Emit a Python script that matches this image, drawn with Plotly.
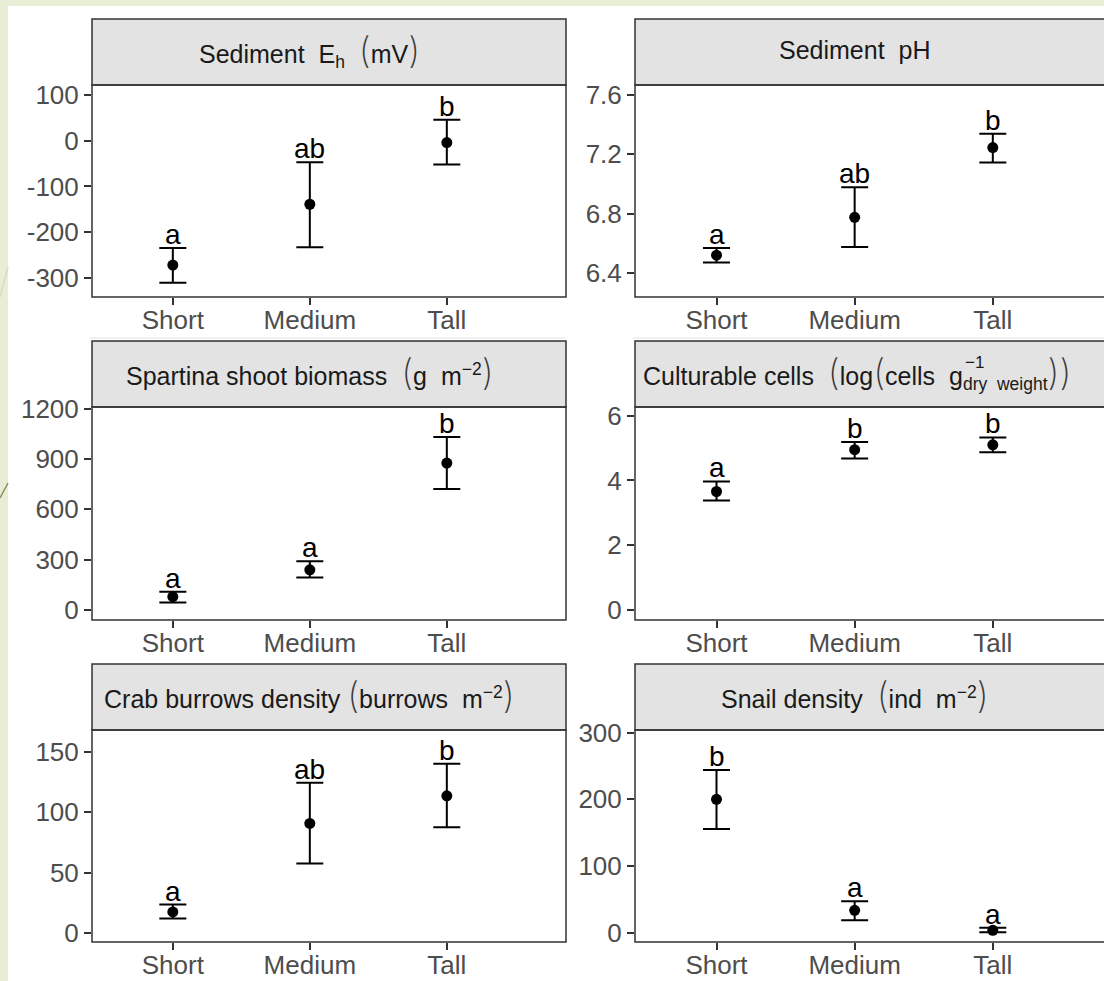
import plotly.graph_objects as go

W, H = 1104, 981

# ---- data -------------------------------------------------------------
categories = ["Short", "Medium", "Tall"]

eh_mean = [-272, -139, -4]
eh_upper = [-235, -47, 46]
eh_lower = [-311, -233, -52]
eh_letters = ["a", "ab", "b"]
eh_ticks = [-300, -200, -100, 0, 100]
eh_ticktext = ["-300", "-200", "-100", "0", "100"]

ph_mean = [6.52, 6.775, 7.245]
ph_upper = [6.568, 6.977, 7.338]
ph_lower = [6.471, 6.575, 7.145]
ph_letters = ["a", "ab", "b"]
ph_ticks = [6.4, 6.8, 7.2, 7.6]
ph_ticktext = ["6.4", "6.8", "7.2", "7.6"]

bio_mean = [79, 239, 876]
bio_upper = [109, 291, 1031]
bio_lower = [44, 193, 721]
bio_letters = ["a", "a", "b"]
bio_ticks = [0, 300, 600, 900, 1200]
bio_ticktext = ["0", "300", "600", "900", "1200"]

cells_mean = [3.66, 4.95, 5.10]
cells_upper = [3.97, 5.19, 5.33]
cells_lower = [3.38, 4.68, 4.87]
cells_letters = ["a", "b", "b"]
cells_ticks = [0, 2, 4, 6]
cells_ticktext = ["0", "2", "4", "6"]

crab_mean = [17.4, 90.7, 113.5]
crab_upper = [23.5, 124.4, 140]
crab_lower = [11.9, 57.5, 87.5]
crab_letters = ["a", "ab", "b"]
crab_ticks = [0, 50, 100, 150]
crab_ticktext = ["0", "50", "100", "150"]

snail_mean = [200, 33.5, 3.5]
snail_upper = [244, 47, 7.5]
snail_lower = [155.5, 18.5, 0.5]
snail_letters = ["b", "a", "a"]
snail_ticks = [0, 100, 200, 300]
snail_ticktext = ["0", "100", "200", "300"]

# tall, thin grouping parentheses for the strip labels
PSTYLE = "font-size:36px;font-family:Inter, DejaVu Sans;font-weight:200;fill:#3a3a3a"
LP = f'<span style="{PSTYLE}">(</span>'
RP = f'<span style="{PSTYLE}">)</span>'
titles = [
    "Sediment  E<sub>h</sub>  " + LP + "mV" + RP,
    "Sediment  pH",
    "Spartina shoot biomass  " + LP + "g  m<sup>−2</sup>" + RP,
    None,  # culturable cells: drawn separately (stacked sub/superscript)
    "Crab burrows density " + LP + "burrows  m<sup>−2</sup>" + RP,
    "Snail density  " + LP + "ind  m<sup>−2</sup>" + RP,
]

panels = [
    (eh_mean, eh_upper, eh_lower, eh_letters, [-342, 122], eh_ticks, eh_ticktext),
    (ph_mean, ph_upper, ph_lower, ph_letters, [6.238, 7.667], ph_ticks, ph_ticktext),
    (bio_mean, bio_upper, bio_lower, bio_letters, [-60, 1210], bio_ticks, bio_ticktext),
    (cells_mean, cells_upper, cells_lower, cells_letters, [-0.31, 6.27], cells_ticks, cells_ticktext),
    (crab_mean, crab_upper, crab_lower, crab_letters, [-7.5, 168], crab_ticks, crab_ticktext),
    (snail_mean, snail_upper, snail_lower, snail_letters, [-14, 304], snail_ticks, snail_ticktext),
]

# ---- layout geometry (pixels) ----------------------------------------
col_x = [(92, 566), (635, 1113)]                 # right column runs past the page edge
row_y = [(85, 297), (407, 620), (730, 942)]      # plot area top / bottom
strip_y = [(19, 85), (341, 407), (664, 730)]     # strip top / bottom
x_lo, x_hi = -0.59, 2.87


def px(x):
    return x / W


def py(y):
    return 1 - y / H


FONT = "Liberation Sans, Arial, sans-serif"
BORDER = "#333333"

fig = go.Figure()
layout = dict(
    width=W, height=H, autosize=False,
    margin=dict(l=0, r=0, t=0, b=0, pad=0, autoexpand=False),
    paper_bgcolor="#e8eed6", plot_bgcolor="white",
    showlegend=False, font=dict(family=FONT),
)
shapes = [
    dict(type="rect", xref="paper", yref="paper", x0=px(8), x1=1.01,
         y0=-0.01, y1=py(6), fillcolor="white", line_width=0, layer="below"),
    dict(type="line", xref="paper", yref="paper", x0=0, y0=py(297), x1=px(8), y1=py(267),
         line=dict(color="#d6dbc3", width=1.5), layer="below"),
    dict(type="line", xref="paper", yref="paper", x0=0, y0=py(498), x1=px(8), y1=py(483),
         line=dict(color="#8d8b5c", width=1.5), layer="below"),
]
annotations = []

for i, (mean, upper, lower, letters, yr, tv, tt) in enumerate(panels):
    r, c = divmod(i, 2)
    n = i + 1
    xa, ya = f"xaxis{n}", f"yaxis{n}"
    xs, ys = f"x{n}", f"y{n}"
    x0p, x1p = col_x[c]
    top, bot = row_y[r]
    # clip the axis at the page edge while keeping the category spacing
    x1_vis = min(x1p, W)
    hi = x_lo + (x_hi - x_lo) * (x1_vis - x0p) / (x1p - x0p)
    layout[xa] = dict(
        domain=[px(x0p), px(x1_vis)], anchor=ys, type="category",
        categoryorder="array", categoryarray=categories, range=[x_lo, hi],
        showgrid=False, zeroline=False, showline=False,
        ticks="outside", ticklen=7, tickwidth=1.5, tickcolor=BORDER,
        ticklabelstandoff=-7,
        tickfont=dict(size=26, color="#4d4d4d", family=FONT),
    )
    layout[ya] = dict(
        domain=[py(bot), py(top)], anchor=xs, range=yr,
        tickmode="array", tickvals=tv, ticktext=tt,
        showgrid=False, zeroline=False, showline=False,
        ticks="outside", ticklen=7, tickwidth=1.5, tickcolor=BORDER,
        tickfont=dict(size=26, color="#4d4d4d", family=FONT),
    )
    fig.add_trace(go.Scatter(
        x=categories, y=mean, mode="markers", xaxis=xs, yaxis=ys,
        marker=dict(size=11, color="black"),
        error_y=dict(type="data", symmetric=False,
                     array=[u - m for u, m in zip(upper, mean)],
                     arrayminus=[m - l for m, l in zip(mean, lower)],
                     color="black", thickness=2, width=13.5),
        hoverinfo="skip",
    ))
    for cat, u, lab in zip(categories, upper, letters):
        annotations.append(dict(
            x=cat, y=u, xref=xs, yref=ys, text=lab, showarrow=False,
            xanchor="center", yanchor="bottom", yshift=-4,
            font=dict(size=28, color="black", family=FONT),
        ))
    # panel frame and strip
    st, sb = strip_y[r]
    shapes.append(dict(type="rect", xref="paper", yref="paper",
                       x0=px(x0p), x1=px(x1p), y0=py(sb), y1=py(st),
                       fillcolor="#e3e3e3", line=dict(color=BORDER, width=1.5)))
    shapes.append(dict(type="rect", xref="paper", yref="paper",
                       x0=px(x0p), x1=px(x1p), y0=py(bot), y1=py(top),
                       fillcolor="rgba(0,0,0,0)", line=dict(color=BORDER, width=1.5)))
    if titles[i] is not None:
        annotations.append(dict(
            x="Medium", xref=xs, y=py((st + sb) / 2), yref="paper",
            text=titles[i], showarrow=False, xanchor="center", yanchor="middle",
            yshift=2,
            font=dict(size=25, color="#1a1a1a", family=FONT),
        ))

# culturable cells strip title with stacked super/subscript
cst, csb = strip_y[1]
annotations.append(dict(
    x=px(641), xref="paper", y=py((cst + csb) / 2), yref="paper",
    text="Culturable cells  " + LP + "log" + LP + "cells  g<sub>dry  weight</sub>" + RP + RP,
    showarrow=False, xanchor="left", yanchor="middle", yshift=2,
    font=dict(size=25, color="#1a1a1a", family=FONT),
))
annotations.append(dict(
    x=px(963), xref="paper", y=py(362), yref="paper", text="−1",
    showarrow=False, xanchor="left", yanchor="middle",
    font=dict(size=17, color="#1a1a1a", family=FONT),
))

# faint seams below the first row
for x0p, x1p in col_x:
    shapes.append(dict(type="line", xref="paper", yref="paper",
                       x0=px(x0p - 2), x1=px(x1p), y0=py(338), y1=py(338),
                       line=dict(color="#e4e4e4", width=1)))

layout["shapes"] = shapes
layout["annotations"] = annotations
fig.update_layout(**layout)
fig.write_html("out.html")
